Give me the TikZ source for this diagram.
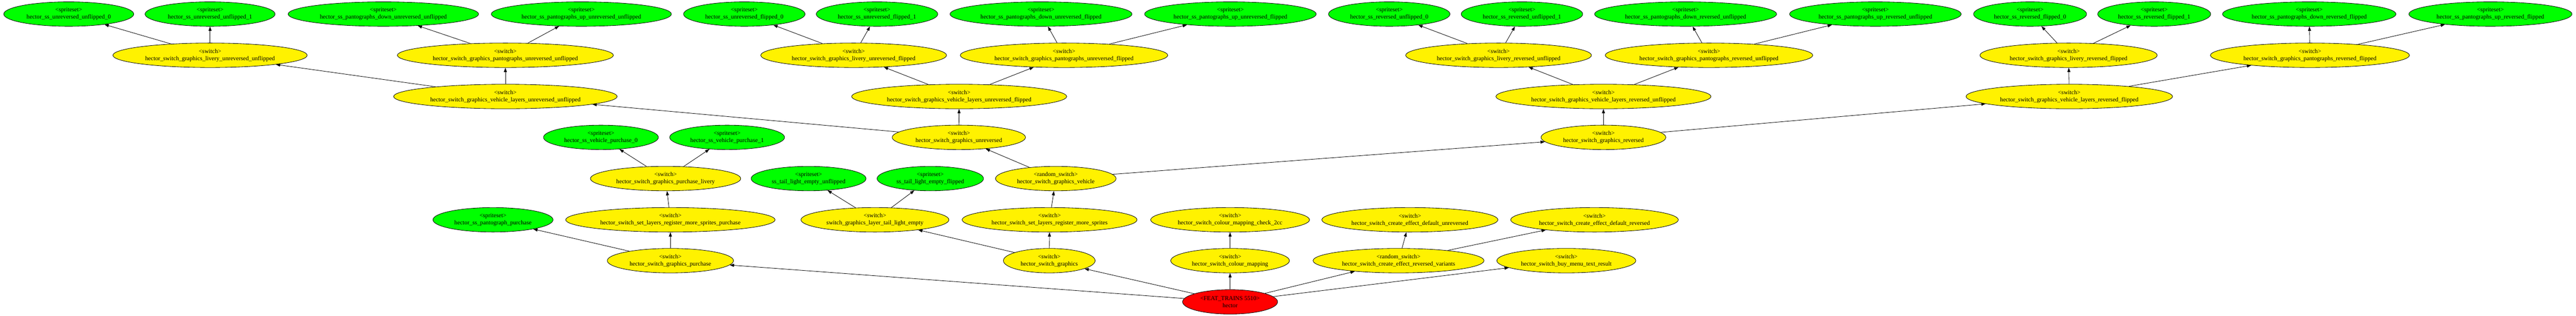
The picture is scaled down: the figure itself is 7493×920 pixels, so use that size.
\documentclass[tikz,border=0pt]{standalone}
\usepackage{fontspec}
\setmainfont{Liberation Serif}
\usetikzlibrary{shapes.geometric,arrows.meta}
\begin{document}
\begin{tikzpicture}[->,>={Triangle[length=10pt,width=7pt]},line width=1pt,x=0.8pt,y=-0.8pt]
      \tikzstyle{every node}=[ellipse,draw,line width=1pt,align=center,font=\fontsize{14}{16.8}\selectfont,inner xsep=9pt,inner ysep=0pt,minimum height=57pt]
      \tikzstyle{spriteset}=[fill=green]
      \tikzstyle{switch}=[fill=yellow]
      \tikzstyle{feat}=[fill=red]
      \useasboundingbox (0,0) rectangle (7493,920);

      \node(ss_uu0) [spriteset] at (200,41) {<spriteset>\\hector\_ss\_unreversed\_unflipped\_0};
      \node(ss_uu1) [spriteset] at (611,41) {<spriteset>\\hector\_ss\_unreversed\_unflipped\_1};
      \node(ss_pd_uu) [spriteset] at (1115,41) {<spriteset>\\hector\_ss\_pantographs\_down\_unreversed\_unflipped};
      \node(ss_pu_uu) [spriteset] at (1691,41) {<spriteset>\\hector\_ss\_pantographs\_up\_unreversed\_unflipped};
      \node(ss_uf0) [spriteset] at (2165,41) {<spriteset>\\hector\_ss\_unreversed\_flipped\_0};
      \node(ss_uf1) [spriteset] at (2551,41) {<spriteset>\\hector\_ss\_unreversed\_flipped\_1};
      \node(ss_pd_uf) [spriteset] at (3028,41) {<spriteset>\\hector\_ss\_pantographs\_down\_unreversed\_flipped};
      \node(ss_pu_uf) [spriteset] at (3579,41) {<spriteset>\\hector\_ss\_pantographs\_up\_unreversed\_flipped};
      \node(ss_ru0) [spriteset] at (4041,41) {<spriteset>\\hector\_ss\_reversed\_unflipped\_0};
      \node(ss_ru1) [spriteset] at (4427,41) {<spriteset>\\hector\_ss\_reversed\_unflipped\_1};
      \node(ss_pd_ru) [spriteset] at (4903,41) {<spriteset>\\hector\_ss\_pantographs\_down\_reversed\_unflipped};
      \node(ss_pu_ru) [spriteset] at (5455,41) {<spriteset>\\hector\_ss\_pantographs\_up\_reversed\_unflipped};
      \node(ss_rf0) [spriteset] at (5905,41) {<spriteset>\\hector\_ss\_reversed\_flipped\_0};
      \node(ss_rf1) [spriteset] at (6266,41) {<spriteset>\\hector\_ss\_reversed\_flipped\_1};
      \node(ss_pd_rf) [spriteset] at (6717,41) {<spriteset>\\hector\_ss\_pantographs\_down\_reversed\_flipped};
      \node(ss_pu_rf) [spriteset] at (7244,41) {<spriteset>\\hector\_ss\_pantographs\_up\_reversed\_flipped};

      \node(liv_uu) [switch] at (611,161) {<switch>\\hector\_switch\_graphics\_livery\_unreversed\_unflipped} edge [->] (ss_uu0) edge [->] (ss_uu1);
      \node(pan_uu) [switch] at (1470,161) {<switch>\\hector\_switch\_graphics\_pantographs\_unreversed\_unflipped} edge [->] (ss_pd_uu) edge [->] (ss_pu_uu);
      \node(liv_uf) [switch] at (2483,161) {<switch>\\hector\_switch\_graphics\_livery\_unreversed\_flipped} edge [->] (ss_uf0) edge [->] (ss_uf1);
      \node(pan_uf) [switch] at (3095,161) {<switch>\\hector\_switch\_graphics\_pantographs\_unreversed\_flipped} edge [->] (ss_pd_uf) edge [->] (ss_pu_uf);
      \node(liv_ru) [switch] at (4359,161) {<switch>\\hector\_switch\_graphics\_livery\_reversed\_unflipped} edge [->] (ss_ru0) edge [->] (ss_ru1);
      \node(pan_ru) [switch] at (4971,161) {<switch>\\hector\_switch\_graphics\_pantographs\_reversed\_unflipped} edge [->] (ss_pd_ru) edge [->] (ss_pu_ru);
      \node(liv_rf) [switch] at (6017,161) {<switch>\\hector\_switch\_graphics\_livery\_reversed\_flipped} edge [->] (ss_rf0) edge [->] (ss_rf1);
      \node(pan_rf) [switch] at (6719,161) {<switch>\\hector\_switch\_graphics\_pantographs\_reversed\_flipped} edge [->] (ss_pd_rf) edge [->] (ss_pu_rf);

      \node(vl_uu) [switch] at (1470,281) {<switch>\\hector\_switch\_graphics\_vehicle\_layers\_unreversed\_unflipped} edge [->] (liv_uu) edge [->] (pan_uu);
      \node(vl_uf) [switch] at (2790,281) {<switch>\\hector\_switch\_graphics\_vehicle\_layers\_unreversed\_flipped} edge [->] (liv_uf) edge [->] (pan_uf);
      \node(vl_ru) [switch] at (4664,281) {<switch>\\hector\_switch\_graphics\_vehicle\_layers\_reversed\_unflipped} edge [->] (liv_ru) edge [->] (pan_ru);
      \node(vl_rf) [switch] at (6019,281) {<switch>\\hector\_switch\_graphics\_vehicle\_layers\_reversed\_flipped} edge [->] (liv_rf) edge [->] (pan_rf);

      \node(ss_vp0) [spriteset] at (1748,400) {<spriteset>\\hector\_ss\_vehicle\_purchase\_0};
      \node(ss_vp1) [spriteset] at (2115,400) {<spriteset>\\hector\_ss\_vehicle\_purchase\_1};
      \node(gr_unrev) [switch] at (2789,400) {<switch>\\hector\_switch\_graphics\_unreversed} edge [->] (vl_uu) edge [->] (vl_uf);
      \node(gr_rev) [switch] at (4664,400) {<switch>\\hector\_switch\_graphics\_reversed} edge [->] (vl_ru) edge [->] (vl_rf);

      \node(purch_livery) [switch] at (1936,520) {<switch>\\hector\_switch\_graphics\_purchase\_livery} edge [->] (ss_vp0) edge [->] (ss_vp1);
      \node(ss_tl_uf) [spriteset] at (2352,520) {<spriteset>\\ss\_tail\_light\_empty\_unflipped};
      \node(ss_tl_f) [spriteset] at (2706,520) {<spriteset>\\ss\_tail\_light\_empty\_flipped};
      \node(gr_vehicle) [switch] at (3071,520) {<random\_switch>\\hector\_switch\_graphics\_vehicle} edge [->] (gr_unrev) edge [->] (gr_rev);

      \node(ss_panto_purch) [spriteset] at (1434,640) {<spriteset>\\hector\_ss\_pantograph\_purchase};
      \node(setl_purch) [switch] at (1950,640) {<switch>\\hector\_switch\_set\_layers\_register\_more\_sprites\_purchase} edge [->] (purch_livery);
      \node(layer_tl) [switch] at (2545,640) {<switch>\\switch\_graphics\_layer\_tail\_light\_empty} edge [->] (ss_tl_uf) edge [->] (ss_tl_f);
      \node(setl) [switch] at (3053,640) {<switch>\\hector\_switch\_set\_layers\_register\_more\_sprites} edge [->] (gr_vehicle);
      \node(cm_check) [switch] at (3578,640) {<switch>\\hector\_switch\_colour\_mapping\_check\_2cc};
      \node(ce_def_unrev) [switch] at (4101,640) {<switch>\\hector\_switch\_create\_effect\_default\_unreversed};
      \node(ce_def_rev) [switch] at (4638,640) {<switch>\\hector\_switch\_create\_effect\_default\_reversed};

      \node(gr_purch) [switch] at (1950,759) {<switch>\\hector\_switch\_graphics\_purchase} edge [->] (setl_purch) edge [->] (ss_panto_purch);
      \node(graphics) [switch] at (3052,759) {<switch>\\hector\_switch\_graphics} edge [->] (layer_tl) edge [->] (setl);
      \node(colmap) [switch] at (3578,759) {<switch>\\hector\_switch\_colour\_mapping} edge [->] (cm_check);
      \node(ce_rev_var) [switch] at (4068,759) {<random\_switch>\\hector\_switch\_create\_effect\_reversed\_variants} edge [->] (ce_def_unrev) edge [->] (ce_def_rev);
      \node(buy_menu) [switch] at (4556,759) {<switch>\\hector\_switch\_buy\_menu\_text\_result};

      \node(hector) [feat] at (3578,879) {<FEAT\_TRAINS 5510>\\hector} edge [->] (gr_purch) edge [->] (graphics) edge [->] (colmap) edge [->] (ce_rev_var) edge [->] (buy_menu);
    \end{tikzpicture}
\end{document}
